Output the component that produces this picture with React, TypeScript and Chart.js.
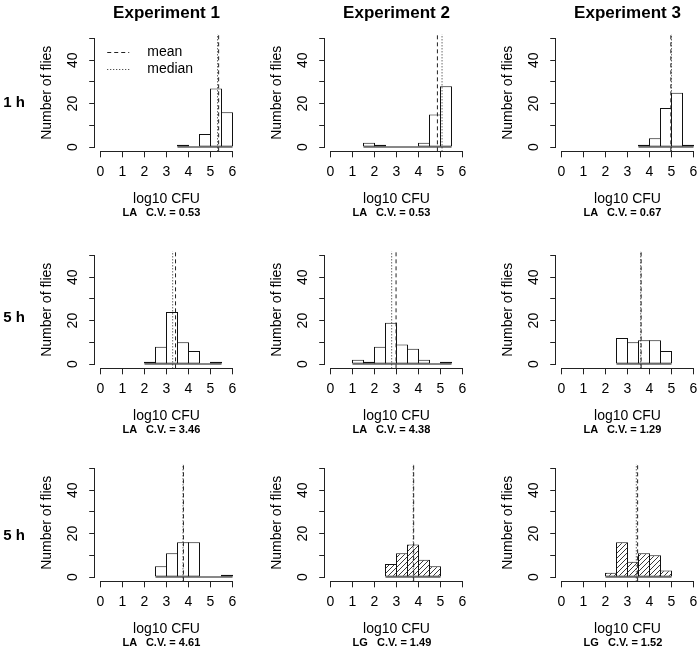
import React, { useEffect, useRef } from 'react';
import { Chart, registerables } from 'chart.js';

Chart.register(...registerables);

// ---------- data ----------
const experiments = ['Experiment 1', 'Experiment 2', 'Experiment 3'];
const rowLabels = ['1 h', '5 h', '5 h'];
const xTicks = [0, 1, 2, 3, 4, 5, 6];
const yTicks = [0, 10, 20, 30, 40, 50];
const yTickLabeled = [0, 20, 40];
const legendLabels = ['mean', 'median'];
const xTitle = 'log10 CFU';
const yTitle = 'Number of flies';
const binWidth = 0.5;

// histogram counts per 0.5-wide bin, starting at the given lower break
const p11Start = 3.5; const p11Counts = [1, 0, 6, 27, 16];
const p12Start = 1.5; const p12Counts = [2, 1, 0, 0, 0, 2, 15, 28];
const p13Start = 3.5; const p13Counts = [1, 4, 18, 25, 1];
const p21Start = 2.0; const p21Counts = [1, 8, 24, 10, 6, 0, 1];
const p22Start = 1.0; const p22Counts = [2, 1, 8, 19, 9, 7, 2, 0, 1];
const p23Start = 2.5; const p23Counts = [12, 10, 11, 11, 6];
const p31Start = 2.5; const p31Counts = [5, 11, 16, 16, 0, 0, 1];
const p32Start = 2.5; const p32Counts = [6, 11, 15, 8, 5];
const p33Start = 2.0; const p33Counts = [2, 16, 7, 11, 10, 3];

const means = [
  [5.37, 4.86, 4.97],
  [3.41, 2.98, 3.62],
  [3.77, 3.78, 3.46],
];
const medians = [
  [5.32, 5.07, 5.0],
  [3.28, 2.78, 3.6],
  [3.75, 3.76, 3.40],
];
const groups = [
  ['LA', 'LA', 'LA'],
  ['LA', 'LA', 'LA'],
  ['LA', 'LG', 'LG'],
];
const cvValues = [
  ['0.53', '0.53', '0.67'],
  ['3.46', '4.38', '1.29'],
  ['4.61', '1.49', '1.52'],
];

const starts = [
  [p11Start, p12Start, p13Start],
  [p21Start, p22Start, p23Start],
  [p31Start, p32Start, p33Start],
];
const counts = [
  [p11Counts, p12Counts, p13Counts],
  [p21Counts, p22Counts, p23Counts],
  [p31Counts, p32Counts, p33Counts],
];

// ---------- layout / style ----------
const FONT = "'Liberation Sans', Arial, Helvetica, sans-serif";
const AXIS = '#222';
const X0 = [100.5, 330.5, 561.5];
const Y0 = [147, 364, 577];
const PXU = 22;
const PYU = 2.17;
const X_MIN = -0.24, X_MAX = 6.24, Y_MIN = -2, Y_MAX = 52;
const Y_W = 60;
const X_H = 60;
const TICK_LEN = 6;

function geometry(r: number, c: number) {
  const chartLeft = X0[c] + X_MIN * PXU;
  const chartRight = X0[c] + X_MAX * PXU;
  const chartTop = Y0[r] - Y_MAX * PYU;
  const chartBottom = Y0[r] - Y_MIN * PYU;
  const canvasLeft = Math.floor(chartLeft - Y_W - 10);
  const canvasTop = Math.floor(chartTop - 25);
  const W = Math.ceil(chartRight - canvasLeft + 20);
  const H = Math.ceil(chartBottom - canvasTop + X_H + 15);
  return {
    canvasLeft, canvasTop, W, H,
    left: chartLeft - canvasLeft,
    right: chartRight - canvasLeft,
    top: chartTop - canvasTop,
    bottom: chartBottom - canvasTop,
  };
}

function makeHatch(): CanvasPattern | string {
  const c = document.createElement('canvas');
  c.width = 5; c.height = 5;
  const g = c.getContext('2d');
  if (!g) return '#fff';
  g.fillStyle = '#fff';
  g.fillRect(0, 0, 5, 5);
  g.strokeStyle = '#222';
  g.lineWidth = 0.9;
  g.beginPath();
  g.moveTo(0, 5); g.lineTo(5, 0);
  g.moveTo(-1, 1); g.lineTo(1, -1);
  g.moveTo(4, 6); g.lineTo(6, 4);
  g.stroke();
  return g.createPattern(c, 'repeat') || '#fff';
}

const rAxesPlugin = {
  id: 'rAxes',
  afterDraw(chart: any) {
    const { ctx, chartArea, scales } = chart;
    const x = scales.x, y = scales.y;
    ctx.save();
    ctx.strokeStyle = AXIS;
    ctx.lineWidth = 1;
    ctx.beginPath();
    const by = Math.round(chartArea.bottom) + 0.5;
    ctx.moveTo(x.getPixelForValue(xTicks[0]) - 0.5, by);
    ctx.lineTo(x.getPixelForValue(xTicks[xTicks.length - 1]) + 0.5, by);
    const lx = Math.round(chartArea.left) - 0.5;
    ctx.moveTo(lx, y.getPixelForValue(yTicks[0]) + 0.5);
    ctx.lineTo(lx, y.getPixelForValue(yTicks[yTicks.length - 1]) - 0.5);
    ctx.stroke();
    ctx.restore();
  },
};

const legendPlugin = {
  id: 'rLegend',
  afterDraw(chart: any) {
    const opt = chart.options.plugins.rLegend;
    if (!opt || !opt.show) return;
    const { ctx, chartArea } = chart;
    const dashes = [[4, 3], [1, 2]];
    ctx.save();
    ctx.font = `14px ${FONT}`;
    ctx.fillStyle = '#000';
    ctx.textBaseline = 'middle';
    legendLabels.forEach((lab, i) => {
      const yy = Math.round(chartArea.top + 17.8 + i * 17) + 0.5;
      ctx.strokeStyle = '#222';
      ctx.lineWidth = 1;
      ctx.setLineDash(dashes[i]);
      ctx.beginPath();
      ctx.moveTo(chartArea.left + 12, yy);
      ctx.lineTo(chartArea.left + 34, yy);
      ctx.stroke();
      ctx.setLineDash([]);
      ctx.fillText(lab, chartArea.left + 52, yy);
    });
    ctx.restore();
  },
};

function Panel({ r, c }: { r: number; c: number }) {
  const ref = useRef<HTMLCanvasElement>(null);
  const g = geometry(r, c);
  useEffect(() => {
    if (!ref.current) return;
    const start = starts[r][c];
    const cnt = counts[r][c];
    const hatched = groups[r][c] === 'LG';
    const bars = cnt.map((n, i) => ({ x: start + binWidth * (i + 0.5), y: n }));
    const end = start + binWidth * cnt.length;
    const mean = means[r][c];
    const median = medians[r][c];
    const pad = { left: g.left - Y_W, right: g.W - g.right, top: g.top, bottom: g.H - g.bottom - X_H };
    const chart = new Chart(ref.current, {
      type: 'bar',
      data: {
        datasets: [
          {
            type: 'bar',
            data: bars as any,
            backgroundColor: hatched ? (makeHatch() as any) : '#ffffff',
            borderColor: '#111',
            borderWidth: 1,
            borderSkipped: false,
            barThickness: binWidth * PXU + 1,
            inflateAmount: 0,
            order: 3,
          } as any,
          {
            type: 'line',
            data: [{ x: start, y: 0 }, { x: end, y: 0 }],
            borderColor: '#111',
            borderWidth: 1,
            pointRadius: 0,
            order: 4,
          } as any,
          {
            type: 'line',
            data: [{ x: mean, y: Y_MIN }, { x: mean, y: Y_MAX }],
            borderColor: '#222',
            borderWidth: 1,
            borderDash: [4, 3],
            pointRadius: 0,
            order: 1,
          } as any,
          {
            type: 'line',
            data: [{ x: median, y: Y_MIN }, { x: median, y: Y_MAX }],
            borderColor: '#222',
            borderWidth: 1,
            borderDash: [1, 2],
            pointRadius: 0,
            order: 2,
          } as any,
        ],
      },
      options: {
        animation: false,
        responsive: false,
        devicePixelRatio: 1,
        events: [],
        layout: { padding: { ...pad } },
        plugins: {
          legend: { display: false },
          tooltip: { enabled: false },
          rLegend: { show: r === 0 && c === 0 },
        } as any,
        scales: {
          x: {
            type: 'linear',
            offset: false,
            min: X_MIN,
            max: X_MAX,
            afterBuildTicks: (s: any) => { s.ticks = xTicks.map((v) => ({ value: v })); },
            afterFit: (s: any) => { s.height = X_H; },
            grid: { display: true, offset: false, drawOnChartArea: false, drawTicks: true, tickLength: TICK_LEN, color: AXIS, lineWidth: 1 },
            border: { display: false },
            ticks: {
              autoSkip: false, maxRotation: 0, minRotation: 0, padding: 6.3,
              color: '#000', font: { family: FONT, size: 14 },
              callback: (v: any) => String(v),
            },
            title: {
              display: true, text: xTitle, color: '#000',
              font: { family: FONT, size: 14 },
              padding: { top: 0, bottom: 3.9 },
            },
          },
          y: {
            type: 'linear',
            min: Y_MIN,
            max: Y_MAX,
            afterBuildTicks: (s: any) => { s.ticks = yTicks.map((v) => ({ value: v })); },
            afterFit: (s: any) => { s.width = Y_W; },
            grid: { display: true, drawOnChartArea: false, drawTicks: true, tickLength: TICK_LEN, color: AXIS, lineWidth: 1 },
            border: { display: false },
            ticks: {
              autoSkip: false, minRotation: 90, maxRotation: 90, crossAlign: 'center', padding: 7.9,
              color: '#000', font: { family: FONT, size: 14 },
              callback: (v: any) => (yTickLabeled.includes(v) ? String(v) : ''),
            },
            title: {
              display: true, text: yTitle, color: '#000',
              font: { family: FONT, size: 14 },
              padding: { top: 3.9, bottom: 0 },
            },
          },
        },
      } as any,
      plugins: [rAxesPlugin, legendPlugin],
    });
    // calibrate the chart area to the intended plot region
    for (let k = 0; k < 4; k++) {
      const ca = chart.chartArea;
      const dl = g.left - ca.left;
      const dr = ca.right - g.right;
      const dt = g.top - ca.top;
      const db = ca.bottom - g.bottom;
      if (Math.abs(dl) + Math.abs(dr) + Math.abs(dt) + Math.abs(db) < 0.01) break;
      pad.left += dl; pad.right += dr; pad.top += dt; pad.bottom += db;
      (chart.options as any).layout.padding = { ...pad };
      chart.update();
    }
    return () => chart.destroy();
  }, [r, c]);
  return (
    <canvas
      ref={ref}
      width={g.W}
      height={g.H}
      style={{ position: 'absolute', left: g.canvasLeft, top: g.canvasTop, width: g.W, height: g.H }}
    />
  );
}

const textBase: React.CSSProperties = {
  position: 'absolute',
  fontFamily: FONT,
  color: '#000',
  lineHeight: 1,
  whiteSpace: 'pre',
};

export default function App() {
  const panels: JSX.Element[] = [];
  const cvTexts: JSX.Element[] = [];
  for (let r = 0; r < 3; r++) {
    for (let c = 0; c < 3; c++) {
      panels.push(<Panel key={`p${r}${c}`} r={r} c={c} />);
      cvTexts.push(
        <div
          key={`cv${r}${c}`}
          style={{ ...textBase, left: X0[c] + 22, top: Y0[r] + 65, transform: 'translateY(-50%)', fontSize: 11, fontWeight: 700 }}
        >
          {`${groups[r][c]}   C.V. = ${cvValues[r][c]}`}
        </div>
      );
    }
  }
  const rowLabelY = [101, 316, 534];
  return (
    <div style={{ position: 'absolute', left: 0, top: 0, width: 700, height: 651, overflow: 'hidden', background: '#fff' }}>
      {panels}
      {experiments.map((t, c) => (
        <div
          key={t}
          style={{ ...textBase, left: X0[c] + 66, top: 12, transform: 'translate(-50%, -50%)', fontSize: 17, fontWeight: 700 }}
        >
          {t}
        </div>
      ))}
      {rowLabels.map((t, r) => (
        <div
          key={`rl${r}`}
          style={{ ...textBase, left: 14, top: rowLabelY[r], transform: 'translate(-50%, -50%)', fontSize: 15, fontWeight: 700 }}
        >
          {t}
        </div>
      ))}
      {cvTexts}
    </div>
  );
}
